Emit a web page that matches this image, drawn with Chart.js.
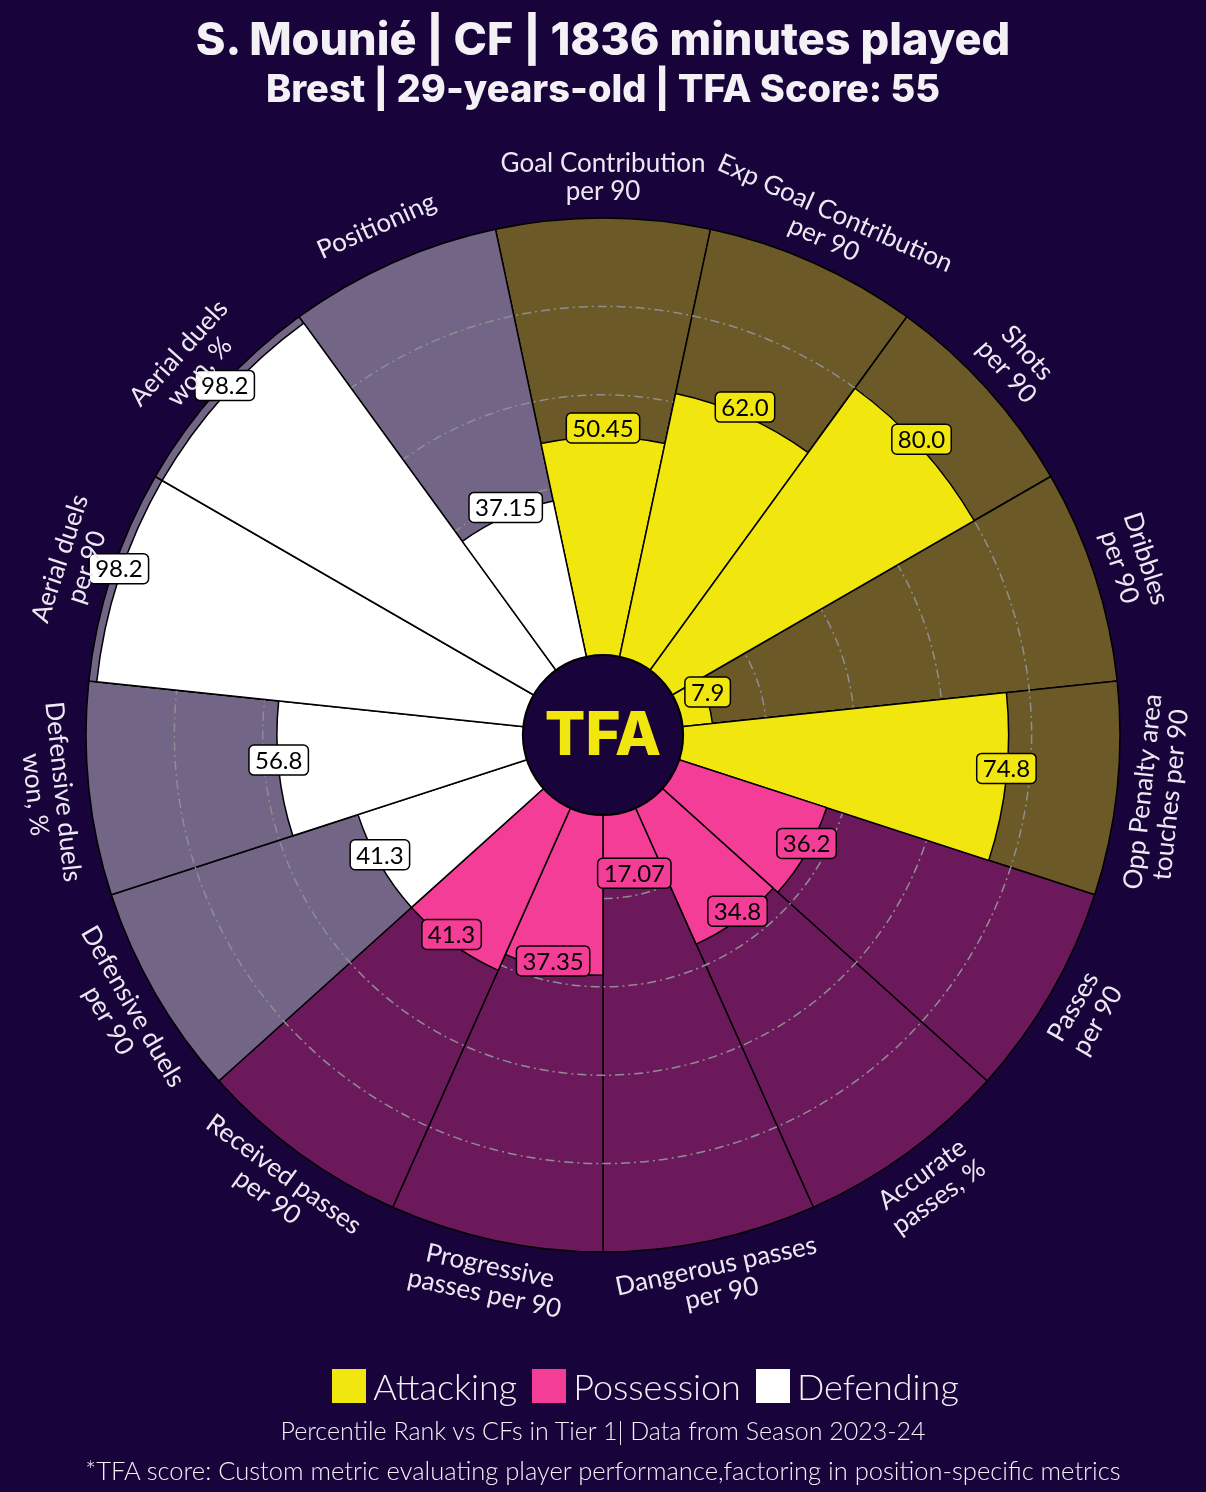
<!DOCTYPE html>
<html>
<head>
<meta charset="utf-8">
<script src="https://cdn.jsdelivr.net/npm/chart.js@4.4.1/dist/chart.umd.min.js"></script>
<style>
  html, body { margin: 0; padding: 0; background: #18033a; }
  #wrap { position: relative; width: 1206px; height: 1492px; overflow: hidden; background: #18033a; }
  #pizza { position: absolute; left: 0; top: 0; }
  .t { position: absolute; left: 0; width: 1206px; text-align: center; color: #f3f1f6; white-space: nowrap; }
  #h1 { top: 11px; font: 800 45px Inter, sans-serif; }
  #h2 { top: 65px; font: 800 38px Inter, sans-serif; }
  #legend { top: 1364px; left: 50px; display: flex; justify-content: center; align-items: center; font: 300 36px Lato, sans-serif; }
  #legend span.sq { display: inline-block; width: 34px; height: 34px; margin-right: 7px; }
  #legend span.lb { margin-right: 15px; }
  #foot1 { top: 1415px; font: 300 25px Lato, sans-serif; }
  #foot2 { top: 1455px; font: 300 25.5px Lato, sans-serif; }
</style>
</head>
<body>
<div id="wrap">
  <canvas id="pizza" width="1206" height="1492"></canvas>
  <div class="t" id="h1">S. Mounié | CF | 1836 minutes played</div>
  <div class="t" id="h2">Brest | 29-years-old | TFA Score: 55</div>
  <div class="t" id="legend"></div>
  <div class="t" id="foot1">Percentile Rank vs CFs in Tier 1| Data from Season 2023-24</div>
  <div class="t" id="foot2">*TFA score: Custom metric evaluating player performance,factoring in position-specific metrics</div>
</div>
<script>
// Datos del gráfico (percentiles), en sentido horario desde arriba
var categories = [
  "Goal Contribution\nper 90",
  "Exp Goal Contribution\nper 90",
  "Shots\nper 90",
  "Dribbles\nper 90",
  "Opp Penalty area\ntouches per 90",
  "Passes\nper 90",
  "Accurate\npasses, %",
  "Dangerous passes\nper 90",
  "Progressive\npasses per 90",
  "Received passes\nper 90",
  "Defensive duels\nper 90",
  "Defensive duels\nwon, %",
  "Aerial duels\nper 90",
  "Aerial duels\nwon, %",
  "Positioning"
];
var values = [50.45, 62.0, 80.0, 7.9, 74.8, 36.2, 34.8, 17.07, 37.35, 41.3, 41.3, 56.8, 98.2, 98.2, 37.15];
var groups = ["Attacking", "Attacking", "Attacking", "Attacking", "Attacking",
              "Possession", "Possession", "Possession", "Possession", "Possession",
              "Defending", "Defending", "Defending", "Defending", "Defending"];
var groupNames = ["Attacking", "Possession", "Defending"];
var fullScale = categories.map(function () { return 100; });
var gridLevels = [20, 40, 60, 80];

// ---------- Estilos ----------
var barColor = { Attacking: "#f2e60f", Possession: "#f43d96", Defending: "#ffffff" };
var backColor = { Attacking: "#6b5a28", Possession: "#6c195c", Defending: "#726586" };
var LABEL_FONT = "400 26px Lato, sans-serif";
var VALUE_FONT = "400 24px Lato, sans-serif";

function fmt(v) { return v % 1 === 0 ? v.toFixed(1) : String(v); }

// Leyenda HTML
(function () {
  var lg = document.getElementById("legend");
  groupNames.forEach(function (g) {
    var sq = document.createElement("span");
    sq.className = "sq";
    sq.style.background = barColor[g];
    var lb = document.createElement("span");
    lb.className = "lb";
    lb.textContent = g;
    lg.appendChild(sq);
    lg.appendChild(lb);
  });
})();

// Rejilla punteada entre el fondo y las barras + textos
var pizzaPlugin = {
  id: "pizza",
  beforeDatasetDraw: function (chart, args) {
    if (args.index !== 1) return;
    var sc = chart.scales.r, ctx = chart.ctx;
    ctx.save();
    ctx.strokeStyle = "#8e8e92";
    ctx.lineWidth = 1.5;
    ctx.setLineDash([9, 4, 2, 4]);
    gridLevels.forEach(function (lv) {
      ctx.beginPath();
      ctx.arc(sc.xCenter, sc.yCenter, sc.getDistanceFromCenterForValue(lv), 0, Math.PI * 2);
      ctx.stroke();
    });
    ctx.restore();
  },
  afterDatasetsDraw: function (chart) {
    var sc = chart.scales.r, ctx = chart.ctx;
    var cx = sc.xCenter, cy = sc.yCenter;
    var meta = chart.getDatasetMeta(1);
    var outer = sc.getDistanceFromCenterForValue(100);

    // cajas de valores
    ctx.save();
    ctx.font = VALUE_FONT;
    ctx.textAlign = "center";
    ctx.textBaseline = "middle";
    meta.data.forEach(function (arc, i) {
      var a = (arc.startAngle + arc.endAngle) / 2;
      var r = sc.getDistanceFromCenterForValue(values[i]);
      var x = cx + r * Math.cos(a), y = cy + r * Math.sin(a) - 9;
      var txt = fmt(values[i]);
      var w = ctx.measureText(txt).width + 12, h = 30;
      ctx.beginPath();
      ctx.roundRect(x - w / 2, y - h / 2, w, h, 5);
      ctx.fillStyle = barColor[groups[i]];
      ctx.fill();
      ctx.lineWidth = 1.5;
      ctx.strokeStyle = "#000";
      ctx.stroke();
      ctx.fillStyle = "#000";
      ctx.fillText(txt, x, y + 1);
    });
    ctx.restore();

    // círculo central con el logo
    ctx.save();
    ctx.beginPath();
    ctx.arc(cx, cy, sc.getDistanceFromCenterForValue(0) + 5, 0, Math.PI * 2);
    ctx.fillStyle = "#18033a";
    ctx.fill();
    ctx.lineWidth = 2;
    ctx.strokeStyle = "#000";
    ctx.stroke();
    ctx.fillStyle = "#f2e60f";
    ctx.font = "800 60px Inter, sans-serif";
    ctx.textAlign = "center";
    ctx.textBaseline = "middle";
    ctx.fillText("TFA", cx, cy + 2);
    ctx.restore();

    // etiquetas de categorías, giradas según el ángulo
    ctx.save();
    ctx.font = LABEL_FONT;
    ctx.fillStyle = "#ece8f2";
    ctx.textAlign = "center";
    ctx.textBaseline = "middle";
    meta.data.forEach(function (arc, i) {
      var a = (arc.startAngle + arc.endAngle) / 2;
      var r = outer + 40;
      var x = cx + r * Math.cos(a), y = cy + r * Math.sin(a);
      var deg = ((a + Math.PI / 2) * 180 / Math.PI + 720) % 360;
      var rot = (deg <= 90 || deg >= 270) ? deg : deg - 180;
      var lines = categories[i].split("\n");
      var lh = 28;
      ctx.save();
      ctx.translate(x, y);
      ctx.rotate(rot * Math.PI / 180);
      lines.forEach(function (ln, k) {
        ctx.fillText(ln, 0, (k - (lines.length - 1) / 2) * lh);
      });
      ctx.restore();
    });
    ctx.restore();
  }
};

new Chart(document.getElementById("pizza"), {
  type: "polarArea",
  data: {
    labels: categories,
    datasets: [
      {
        label: "fondo",
        data: fullScale,
        backgroundColor: groups.map(function (g) { return backColor[g]; }),
        borderColor: "#000",
        borderWidth: 1.5,
        order: 2
      },
      {
        label: "percentil",
        data: values,
        backgroundColor: groups.map(function (g) { return barColor[g]; }),
        borderColor: "#000",
        borderWidth: 1.5,
        order: 1
      }
    ]
  },
  options: {
    responsive: false,
    animation: false,
    events: [],
    startAngle: -12,
    layout: { padding: { left: 86, right: 86, top: 218, bottom: 240 } },
    scales: {
      r: {
        min: -17,
        max: 100,
        startAngle: -12,
        ticks: { display: false },
        grid: { display: false },
        angleLines: { display: false },
        pointLabels: { display: false }
      }
    },
    plugins: { legend: { display: false }, tooltip: { enabled: false }, title: { display: false } }
  },
  plugins: [pizzaPlugin]
});
</script>
</body>
</html>
